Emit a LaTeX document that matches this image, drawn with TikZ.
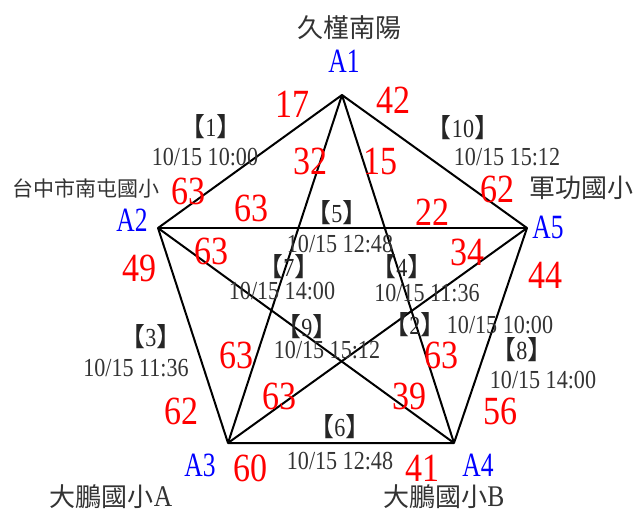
\documentclass[tikz,border=0pt]{standalone}
\usepackage{fontspec}
\setmainfont{Liberation Serif}[FakeStretch=0.85]
\newfontfamily\cjk{Noto Sans CJK TC}
\newfontfamily\vfont{Liberation Serif}[FakeStretch=0.75]
\newcommand{\brk}[1]{{\cjk 【}#1{\cjk 】}}
\newcommand{\lat}[1]{{\rmfamily\fontsize{30}{30}\selectfont #1}}
\begin{document}
\begin{tikzpicture}[x=1pt, y=-1pt, every node/.style={inner sep=0pt},
    num/.style={text=red, font=\fontsize{40}{40}\selectfont},
    vtx/.style={text=blue, font=\vfont\fontsize{34}{34}\selectfont},
    site/.style={text=black!80, font=\cjk\fontsize{26}{26}\selectfont},
    tag/.style={text=black!85, font=\fontsize{26}{26}\selectfont},
    stamp/.style={text=black!80, font=\fontsize{26}{26}\selectfont},
    edge/.style={line width=2pt, line join=round}]
    \useasboundingbox (0,0) rectangle (640,515);
    \coordinate (p1) at (342,95);
    \coordinate (p2) at (158,228);
    \coordinate (p5) at (527,228);
    \coordinate (p3) at (228,443);
    \coordinate (p4) at (454,443);

    \draw [edge] (p1) -- (p2) -- (p3) -- (p4) -- (p5) -- cycle;
    \draw [edge] (p1) -- (p3);
    \draw [edge] (p1) -- (p4);
    \draw [edge] (p2) -- (p5);
    \draw [edge] (p2) -- (p4);
    \draw [edge] (p3) -- (p5);

    \node [site] (s1) at (349,28) {久槿南陽};
    \node [vtx] (a1) at (344,61) {A1};
    \node [site, font=\cjk\fontsize{21}{21}\selectfont] (s2) at (86,188) {台中市南屯國小};
    \node [vtx] (a2) at (132,220) {A2};
    \node [site] (s5) at (581,188) {軍功國小};
    \node [vtx] (a5) at (548,227) {A5};
    \node [vtx] (a3) at (200,465) {A3};
    \node [site] (s3) at (111,497) {大鵬國小\lat{A}};
    \node [vtx] (a4) at (478,465) {A4};
    \node [site] (s4) at (444,497) {大鵬國小\lat{B}};

    \node [num] (n1) at (292,104) {17};
    \node [num] (n2) at (393,100) {42};
    \node [num] (n3) at (310,161) {32};
    \node [num] (n4) at (380,161) {15};
    \node [num] (n5) at (188,191) {63};
    \node [num] (n6) at (251,208) {63};
    \node [num] (n7) at (497,189) {62};
    \node [num] (n8) at (432,212) {22};
    \node [num] (n9) at (211,251) {63};
    \node [num] (n10) at (139,268) {49};
    \node [num] (n11) at (467,252) {34};
    \node [num] (n12) at (545,275) {44};
    \node [num] (n13) at (236,355) {63};
    \node [num] (n14) at (279,396) {63};
    \node [num] (n15) at (181,411) {62};
    \node [num] (n16) at (250,468) {60};
    \node [num] (n17) at (441,355) {63};
    \node [num] (n18) at (409,396) {39};
    \node [num] (n19) at (500,411) {56};
    \node [num] (n20) at (422,468) {41};

    \node [tag] (t1) at (211,127) {\brk{1}};
    \node [stamp] (d1) at (205,157) {10/15 10:00};
    \node [tag] (t10) at (463,128) {\brk{10}};
    \node [stamp] (d10) at (507,157) {10/15 15:12};
    \node [tag] (t5) at (337,213) {\brk{5}};
    \node [stamp] (d5) at (340,244) {10/15 12:48};
    \node [tag] (t7) at (289,267) {\brk{7}};
    \node [stamp] (d7) at (282,291) {10/15 14:00};
    \node [tag] (t4) at (402,267) {\brk{4}};
    \node [stamp] (d4) at (427,293) {10/15 11:36};
    \node [tag] (t9) at (307,327) {\brk{9}};
    \node [stamp] (d9) at (327,350) {10/15 15:12};
    \node [tag] (t2) at (415,325) {\brk{2}};
    \node [stamp] (d2) at (500,325) {10/15 10:00};
    \node [tag] (t8) at (522,350) {\brk{8}};
    \node [stamp] (d8) at (543,380) {10/15 14:00};
    \node [tag] (t3) at (151,337) {\brk{3}};
    \node [stamp] (d3) at (136,368) {10/15 11:36};
    \node [tag] (t6) at (340,427) {\brk{6}};
    \node [stamp] (d6) at (340,461) {10/15 12:48};
\end{tikzpicture}
\end{document}
